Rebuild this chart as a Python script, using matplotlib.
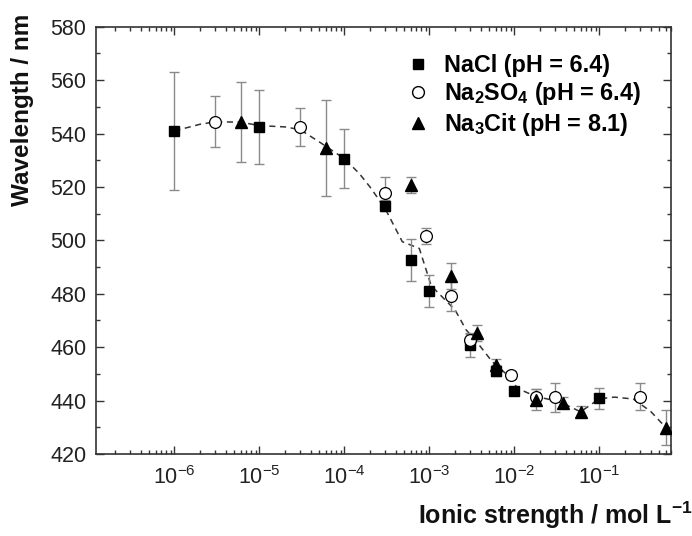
import matplotlib
matplotlib.use('Agg')
import matplotlib.pyplot as plt
from matplotlib.lines import Line2D
from matplotlib.ticker import LogLocator, NullFormatter, FixedLocator, MultipleLocator

plt.rcParams['font.family'] = ['Liberation Sans', 'DejaVu Sans']
plt.rcParams['mathtext.fontset'] = 'custom'
plt.rcParams['mathtext.rm'] = 'Liberation Sans'
plt.rcParams['mathtext.bf'] = 'Liberation Sans:bold'

# NaCl (pH = 6.4)
nacl_x = [1e-6, 1e-5, 1e-4, 3e-4, 6e-4, 1e-3, 3e-3, 6e-3, 1e-2, 1e-1]
nacl_y = [541, 542.5, 530.6, 513, 492.7, 481.1, 461, 451.2, 443.5, 440.9]
nacl_err = [22, 14, 11, 2, 8, 6, 4.5, 2, 1.5, 4]

# Na2SO4 (pH = 6.4)
na2so4_x = [3e-6, 3e-5, 3e-4, 9e-4, 1.8e-3, 3e-3, 9e-3, 1.8e-2, 3e-2, 3e-1]
na2so4_y = [544.4, 542.5, 517.8, 501.5, 479.2, 462.8, 449.5, 441.4, 441.2, 441.5]
na2so4_err = [9.5, 7, 6, 3, 5.5, 2, 1.5, 3, 5.5, 5]

# Na3Cit (pH = 8.1)
na3cit_x = [6e-6, 6e-5, 6e-4, 1.8e-3, 3.6e-3, 6e-3, 1.8e-2, 3.7e-2, 6e-2, 6e-1]
na3cit_y = [544.5, 534.7, 520.8, 486.7, 465.4, 453.5, 440.3, 439.2, 435.8, 429.8]
na3cit_err = [15, 18, 3, 5, 3, 2, 4, 2, 2, 6.5]

# dashed guide curve
fit_x = [1e-6, 2e-6, 3e-6, 6e-6, 1e-5, 2e-5, 3e-5, 5e-5, 1e-4, 1.5e-4, 2e-4, 3e-4,
         4.8e-4, 7.6e-4, 1.05e-3, 1.3e-3, 2e-3, 2.7e-3, 3.6e-3, 5.5e-3, 8e-3,
         1.1e-2, 1.8e-2, 3e-2, 4e-2, 6e-2, 1e-1, 1.5e-1, 2.5e-1, 4e-1, 6e-1]
fit_y = [541, 543.5, 544.4, 544.3, 543, 542.5, 541.5, 537, 530.6, 525, 520, 512,
         499.5, 497, 483, 480, 474, 466.5, 462, 454.5, 450,
         444.5, 441.5, 440, 438.5, 435.8, 440.7, 441.3, 440.6, 436, 430]

fig = plt.figure(figsize=(6.92, 5.36), dpi=100)
ax = fig.add_axes([0.139, 0.153, 0.831, 0.797])

ax.plot(fit_x, fit_y, color='#333333', linestyle=(0, (4, 3)), linewidth=1.1, zorder=1)

eb = dict(fmt='none', ecolor='#8a8a8a', elinewidth=1.0, capsize=3.5, capthick=1.0, zorder=2)
ax.errorbar(nacl_x, nacl_y, yerr=nacl_err, **eb)
ax.errorbar(na2so4_x, na2so4_y, yerr=na2so4_err, **eb)
ax.errorbar(na3cit_x, na3cit_y, yerr=na3cit_err, **eb)

ax.plot(nacl_x, nacl_y, 's', color='black', markersize=7.5, linestyle='none', zorder=3)
ax.plot(na2so4_x, na2so4_y, 'o', markerfacecolor='white', markeredgecolor='black',
        markeredgewidth=0.9, markersize=8.5, linestyle='none', zorder=3)
ax.plot(na3cit_x, na3cit_y, '^', color='black', markersize=8.5, linestyle='none', zorder=3)

ax.set_xscale('log')
ax.set_xlim(1.2e-7, 0.7)
ax.set_ylim(420, 580)

ax.xaxis.set_major_locator(FixedLocator([1e-7, 1e-6, 1e-5, 1e-4, 1e-3, 1e-2, 1e-1]))
ax.set_xticklabels(['', r'$10^{-6}$', r'$10^{-5}$', r'$10^{-4}$', r'$10^{-3}$',
                    r'$10^{-2}$', r'$10^{-1}$'])
ax.xaxis.set_minor_locator(LogLocator(base=10, subs=range(2, 10), numticks=20))
ax.xaxis.set_minor_formatter(NullFormatter())
ax.yaxis.set_major_locator(MultipleLocator(20))
ax.yaxis.set_minor_locator(MultipleLocator(10))

ax.tick_params(which='both', direction='in', top=True, right=True, labelsize=15.5,
               color='#333333', labelcolor='#222222')
ax.tick_params(which='major', length=6, width=1)
ax.tick_params(which='minor', length=3, width=1)
ax.tick_params(axis='x', pad=9)
ax.tick_params(axis='y', pad=7)
for s in ax.spines.values():
    s.set_linewidth(1.2)
    s.set_color('#333333')

fig.text(0.032, 0.975, 'Wavelength / nm', rotation=90, ha='center', va='top',
         fontsize=17.5, fontweight='bold', color='#111111')
fig.text(1.0, 0.022, r'Ionic strength / mol L$^{\mathbf{-1}}$', ha='right', va='baseline',
         fontsize=18, fontweight='bold', color='#111111')

handles = [
    Line2D([], [], marker='s', color='black', linestyle='none', markersize=7.5),
    Line2D([], [], marker='o', markerfacecolor='white', markeredgecolor='black',
           linestyle='none', markersize=8.5),
    Line2D([], [], marker='^', color='black', linestyle='none', markersize=8.5),
]
labels = ['NaCl (pH = 6.4)', r'Na$_\mathbf{2}$SO$_\mathbf{4}$ (pH = 6.4)',
          r'Na$_\mathbf{3}$Cit (pH = 8.1)']
ax.legend(handles, labels, loc='upper right', bbox_to_anchor=(0.975, 0.975), frameon=False,
          prop={'weight': 'bold', 'size': 16.8}, handletextpad=0.6, labelspacing=0.15,
          handlelength=1.0, borderaxespad=0.3)

fig.savefig('out.png', dpi=100)
